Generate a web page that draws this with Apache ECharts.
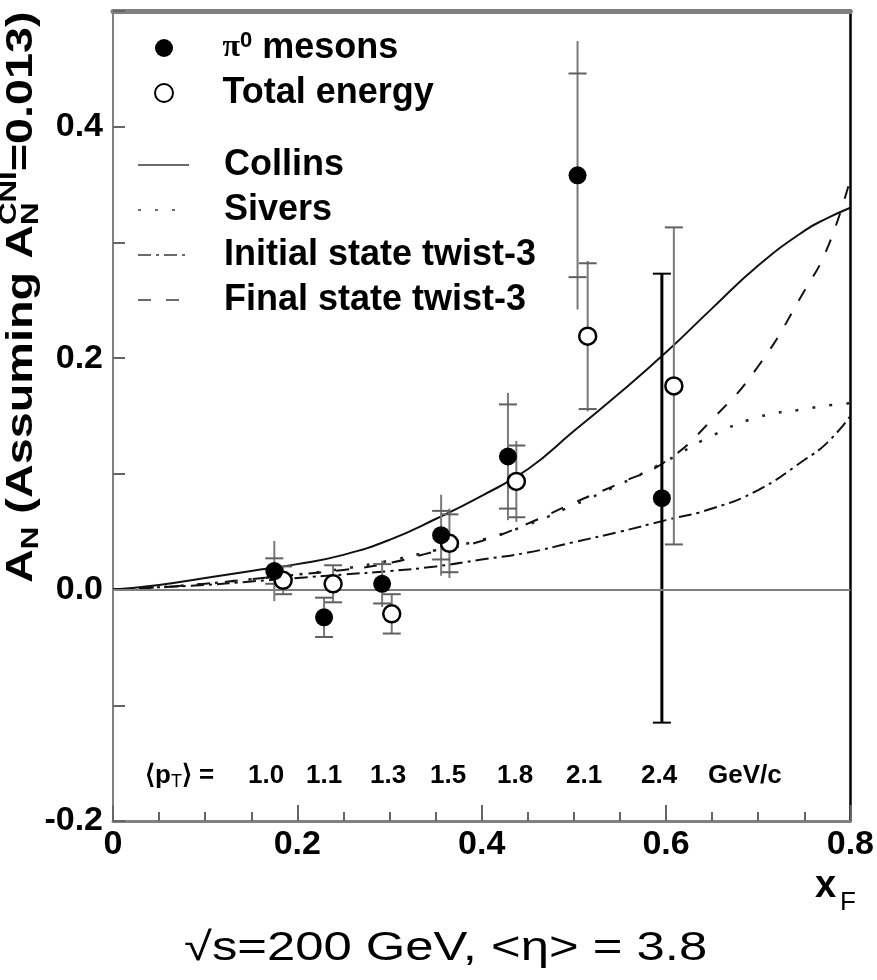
<!DOCTYPE html>
<html>
<head>
<meta charset="utf-8">
<script src="https://cdn.jsdelivr.net/npm/echarts@6/dist/echarts.min.js"></script>
<style>
html,body{margin:0;padding:0;background:#fff;}
#chart{width:877px;height:980px;}
</style>
</head>
<body>
<div id="chart"></div>
<script>
// ---- data ----
const pi0X   = [0.175, 0.229, 0.292, 0.356, 0.4285, 0.504, 0.5955];
const pi0Y   = [0.016, -0.024, 0.005, 0.047, 0.115, 0.358, 0.079];
const pi0Err = [0.026, 0.017, 0.020, 0.035, 0.055, 0.116, 0.194];
const pi0Cap = [0.011, 0.017, 0.017, 0.021, 0.045, 0.088, 0.194];

const totX   = [0.1846, 0.2388, 0.3024, 0.365, 0.4376, 0.515, 0.6085];
const totY   = [0.008, 0.005, -0.021, 0.040, 0.0935, 0.219, 0.176];
const totErr = [0.012, 0.016, 0.017, 0.030, 0.035, 0.065, 0.137];
const totCap = [0.012, 0.016, 0.017, 0.025, 0.031, 0.063, 0.137];

const curveX   = [0, 0.05, 0.1, 0.15, 0.2, 0.25, 0.3, 0.35, 0.4, 0.45, 0.5, 0.55, 0.6, 0.65, 0.7, 0.75, 0.775, 0.8];
const collins  = [0, 0.004, 0.010, 0.016, 0.022, 0.030, 0.043, 0.061, 0.081, 0.104, 0.137, 0.170, 0.205, 0.243, 0.280, 0.310, 0.321, 0.330];
const sivers   = [0, 0.002, 0.005, 0.009, 0.013, 0.018, 0.025, 0.034, 0.043, 0.056, 0.073, 0.091, 0.111, 0.133, 0.149, 0.156, 0.159, 0.161];
const initTw3  = [0, 0.002, 0.004, 0.007, 0.010, 0.013, 0.016, 0.020, 0.026, 0.032, 0.041, 0.050, 0.060, 0.070, 0.086, 0.112, 0.127, 0.150];
const finalTw3 = [0, 0.002, 0.005, 0.009, 0.013, 0.017, 0.023, 0.033, 0.042, 0.057, 0.075, 0.092, 0.111, 0.147, 0.193, 0.258, 0.295, 0.355];

const xTickLabels = ['0', '0.2', '0.4', '0.6', '0.8'];
const yTickLabels = ['-0.2', '0.0', '0.2', '0.4'];
const ptLabels = ['1.0', '1.1', '1.3', '1.5', '1.8', '2.1', '2.4'];

const seriesNames = ['π0 mesons', 'Total energy', 'Collins', 'Sivers', 'Initial state twist-3', 'Final state twist-3'];

// ---- layout (not data) ----
const ptLabelLeft = [248, 306, 370, 430, 497, 566, 641];
const heavyBarIndex = 6;
const FONT = '"Liberation Sans", Arial, Helvetica, sans-serif';

function pair(xs, ys) { return xs.map((x, i) => [x, ys[i]]); }
function quad(xs, ys, e, c) { return xs.map((x, i) => [x, ys[i], e[i], c[i]]); }

function errRender(kind) {
  return function (params, api) {
    const x = api.value(0), y = api.value(1), e = api.value(2), c = api.value(3);
    const t = api.coord([x, y + e]), b = api.coord([x, y - e]);
    const ct = api.coord([x, y + c]), cb = api.coord([x, y - c]);
    const heavy = (kind === 'pi0' && params.dataIndex === heavyBarIndex);
    const st = { stroke: heavy ? '#000' : '#7a7a7a', lineWidth: heavy ? 3 : 2 };
    const capSt = { stroke: heavy ? '#000' : '#606060', lineWidth: 2 };
    const hw = 9;
    return {
      type: 'group',
      children: [
        { type: 'line', shape: { x1: t[0], y1: t[1], x2: b[0], y2: b[1] }, style: st },
        { type: 'line', shape: { x1: ct[0] - hw, y1: ct[1], x2: ct[0] + hw, y2: ct[1] }, style: capSt },
        { type: 'line', shape: { x1: cb[0] - hw, y1: cb[1], x2: cb[0] + hw, y2: cb[1] }, style: capSt }
      ]
    };
  };
}

const mctx = document.createElement('canvas').getContext('2d');
function tw(str, font) { mctx.font = font; return mctx.measureText(str).width; }

const chart = echarts.init(document.getElementById('chart'), null, { renderer: 'canvas' });

// y title pieces (rotated group, stretched along text direction)
const tMain = 'bold 36px ' + FONT;
const tSmall = 'bold 24px ' + FONT;
const p1 = 'A', p2 = 'N', p3 = ' (Assuming A', p4 = 'CNI', p5 = 'N', p6 = '=0.013)';
const w1 = tw(p1, tMain), w2 = tw(p2, tSmall), w3 = tw(p3, tMain), w4 = tw(p4, tSmall);
const titleChildren = [
  { type: 'text', x: 0, y: 0, style: { text: p1, font: tMain, fill: '#000', verticalAlign: 'middle' } },
  { type: 'text', x: w1, y: 9, style: { text: p2, font: tSmall, fill: '#000', verticalAlign: 'middle' } },
  { type: 'text', x: w1 + w2, y: 0, style: { text: p3, font: tMain, fill: '#000', verticalAlign: 'middle' } },
  { type: 'text', x: w1 + w2 + w3, y: -13, style: { text: p4, font: tSmall, fill: '#000', verticalAlign: 'middle' } },
  { type: 'text', x: w1 + w2 + w3, y: 9, style: { text: p5, font: tSmall, fill: '#000', verticalAlign: 'middle' } },
  { type: 'text', x: w1 + w2 + w3 + w4, y: 0, style: { text: p6, font: tMain, fill: '#000', verticalAlign: 'middle' } }
];

const graphics = [
  { type: 'group', x: 22, y: 583, rotation: Math.PI / 2, scaleX: 1.3, children: titleChildren },
  { type: 'text', x: 815, y: 887, style: { text: 'x', font: 'bold 38px ' + FONT, fill: '#000', verticalAlign: 'middle' } },
  { type: 'text', x: 840, y: 903, style: { text: 'F', font: '26px ' + FONT, fill: '#000', verticalAlign: 'middle' } },
  { type: 'text', x: 184, y: 949, scaleX: 1.27, style: { text: '√s=200 GeV, <η> = 3.8', font: '40px ' + FONT, fill: '#000', verticalAlign: 'middle' } },
  { type: 'text', x: 145, y: 776, style: {
      text: '{n|⟨}{b|p}{s|T}{n|⟩ =}', verticalAlign: 'middle',
      rich: {
        n: { font: 'bold 26px ' + FONT, fill: '#000', verticalAlign: 'middle' },
        b: { font: 'bold 26px ' + FONT, fill: '#000', verticalAlign: 'middle' },
        s: { font: '18px ' + FONT, fill: '#000', verticalAlign: 'bottom', padding: [12, 0, 0, 0] }
      } } },
  { type: 'text', x: 708, y: 776, style: { text: 'GeV/c', font: 'bold 26px ' + FONT, fill: '#000', verticalAlign: 'middle' } }
];
ptLabels.forEach((t, i) => {
  graphics.push({ type: 'text', x: ptLabelLeft[i], y: 776, style: { text: t, font: 'bold 26px ' + FONT, fill: '#000', verticalAlign: 'middle' } });
});

function legendText(pad) {
  return {
    fontFamily: FONT, fontSize: 36, fontWeight: 'bold', color: '#000', padding: [0, 0, 0, pad],
    rich: {
      pi: { fontFamily: '"Liberation Serif", serif', fontSize: 32, color: '#000' },
      sup: { fontFamily: FONT, fontSize: 22, fontWeight: 'bold', color: '#000', verticalAlign: 'top', padding: [0, 0, 14, 0] },
      t: { fontFamily: FONT, fontSize: 36, fontWeight: 'bold', color: '#000' }
    }
  };
}
const hideSym = { color: 'rgba(0,0,0,0)', borderColor: 'rgba(0,0,0,0)', borderWidth: 0, opacity: 0 };

const option = {
  backgroundColor: '#fff',
  animation: false,
  grid: { left: 113, right: 26, top: 11, bottom: 159, containLabel: false },
  legend: [
    {
      data: [{ name: seriesNames[0], icon: 'circle' }, { name: seriesNames[1], icon: 'circle' }],
      orient: 'vertical', left: 154, top: 30, padding: 0, itemWidth: 51, itemHeight: 18, itemGap: 9,
      selectedMode: false, textStyle: legendText(28),
      formatter: function (n) { return n === seriesNames[0] ? '{pi|π}{sup|0}{t| mesons}' : n; }
    },
    {
      data: seriesNames.slice(2).map(n => ({ name: n, itemStyle: hideSym })),
      orient: 'vertical', left: 137, top: 147, padding: 0, itemWidth: 51, itemHeight: 18, itemGap: 9,
      selectedMode: false, textStyle: legendText(30),
      lineStyle: { color: '#6a6a6a', width: 2 }
    }
  ],
  xAxis: [
    {
      type: 'value', min: 0, max: 0.8, interval: 0.2,
      axisLine: { show: true, onZero: false, lineStyle: { color: '#808080', width: 3 } },
      axisTick: { show: true, inside: true, length: 16, lineStyle: { color: '#666', width: 2 } },
      minorTick: { show: true, splitNumber: 4, length: 9, lineStyle: { color: '#666', width: 2 } },
      splitLine: { show: false },
      axisLabel: {
        margin: 7, fontFamily: FONT, fontSize: 34, fontWeight: 'bold', color: '#000',
        formatter: function (v) { const i = Math.round(v / 0.2); return xTickLabels[i] !== undefined ? xTickLabels[i] : ''; }
      }
    },
    {
      type: 'value', position: 'top', min: 0, max: 0.8,
      axisLine: { show: true, onZero: false, lineStyle: { color: '#808080', width: 5 } },
      axisTick: { show: false }, axisLabel: { show: false }, splitLine: { show: false }
    }
  ],
  yAxis: [
    {
      type: 'value', min: -0.2, max: 0.5, interval: 0.1,
      axisLine: { show: true, onZero: false, lineStyle: { color: '#808080', width: 2 } },
      axisTick: { show: true, inside: true, length: 12, lineStyle: { color: '#666', width: 2 } },
      splitLine: { show: false },
      axisLabel: {
        margin: 10, fontFamily: FONT, fontSize: 34, fontWeight: 'bold', color: '#000',
        formatter: function (v) {
          const k = Math.round((v + 0.2) / 0.1);
          if (k % 2 !== 0) return '';
          const i = k / 2;
          return yTickLabels[i] !== undefined ? yTickLabels[i] : '';
        }
      }
    },
    {
      type: 'value', position: 'right', min: -0.2, max: 0.5,
      axisLine: { show: true, onZero: false, lineStyle: { color: '#000', width: 2.5 } },
      axisTick: { show: false }, axisLabel: { show: false }, splitLine: { show: false }
    }
  ],
  graphic: graphics,
  series: [
    {
      name: seriesNames[2], type: 'line', data: pair(curveX, collins), smooth: true,
      symbol: 'none', itemStyle: { color: '#000' }, lineStyle: { color: '#111', width: 2, type: 'solid' }, z: 3,
      markLine: { silent: true, symbol: 'none', label: { show: false },
        lineStyle: { color: '#808080', width: 2, type: 'solid' }, data: [{ yAxis: 0 }] }
    },
    {
      name: seriesNames[3], type: 'line', data: pair(curveX, sivers), smooth: true,
      symbol: 'none', itemStyle: { color: '#000' }, lineStyle: { color: '#222', width: 2.5, type: [3, 14] }, z: 3
    },
    {
      name: seriesNames[4], type: 'line', data: pair(curveX, initTw3), smooth: true,
      symbol: 'none', itemStyle: { color: '#000' }, lineStyle: { color: '#111', width: 2, type: [13, 5, 3, 5] }, z: 3
    },
    {
      name: seriesNames[5], type: 'line', data: pair(curveX, finalTw3), smooth: true,
      symbol: 'none', itemStyle: { color: '#000' }, lineStyle: { color: '#111', width: 2, type: [13, 15] }, z: 3
    },
    {
      name: 'totErr', type: 'custom', renderItem: errRender('tot'), data: quad(totX, totY, totErr, totCap), z: 4
    },
    {
      name: 'pi0Err', type: 'custom', renderItem: errRender('pi0'), data: quad(pi0X, pi0Y, pi0Err, pi0Cap), z: 4
    },
    {
      name: seriesNames[1], type: 'scatter', data: pair(totX, totY), symbol: 'circle', symbolSize: 17,
      itemStyle: { color: '#fff', borderColor: '#000', borderWidth: 2.5, opacity: 1 }, z: 5
    },
    {
      name: seriesNames[0], type: 'scatter', data: pair(pi0X, pi0Y), symbol: 'circle', symbolSize: 18,
      itemStyle: { color: '#000', opacity: 1 }, z: 6
    }
  ]
};
chart.setOption(option);
</script>
</body>
</html>
